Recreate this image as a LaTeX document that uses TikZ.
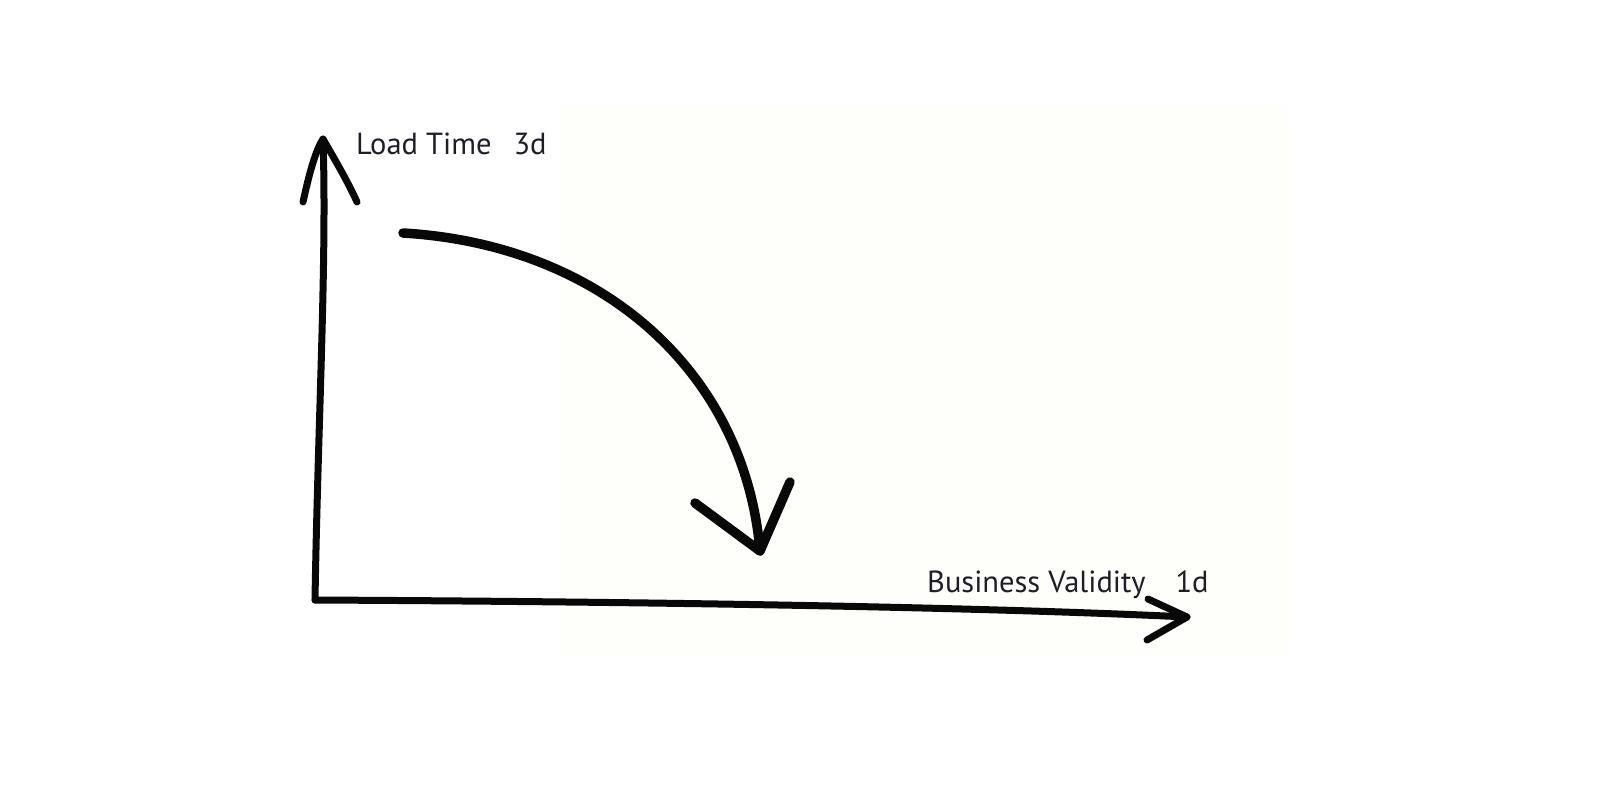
\documentclass[tikz,border=0pt]{standalone}
\usepackage{fontspec}
\setmainfont{PT Sans}
\definecolor{paper}{RGB}{254,254,250}
\definecolor{ink}{RGB}{8,8,8}
\definecolor{txt}{RGB}{30,30,40}
\begin{document}
\begin{tikzpicture}[x=1pt,y=-1pt,
  stroke/.style={draw=ink,line width=9.5pt,line cap=round,line join=round},
  axis/.style={draw=ink,line width=7pt,line cap=round,line join=round},
  lbl/.style={text=txt,font=\fontsize{30.5}{32}\selectfont,inner sep=0pt,anchor=base west}]
\useasboundingbox (0,0) rectangle (1600,800);
\fill[white] (0,0) rectangle (1600,800);
\fill[paper] (560,105) rectangle (1290,655);
% coordinates
\coordinate (O) at (315,600);
\coordinate (Ytip) at (323,139);
\coordinate (Xtip) at (1187,617);
\coordinate (Cs) at (403,233);
\coordinate (Ct) at (760,551);
% y axis
\draw[axis] (O) .. controls (318,420) and (327,260) .. (Ytip);
\draw[axis] (303,202) .. controls (310,170) and (316,150) .. (Ytip) .. controls (335,160) and (347,180) .. (357,202);
% x axis
\draw[axis] (O) .. controls (700,602) and (1000,608) .. (Xtip);
\draw[axis] (1148,599) -- (Xtip) -- (1147,640);
% curved arrow
\draw[stroke] (Cs) .. controls (605,245) and (745,375) .. (Ct);
\draw[stroke] (695,503) -- (Ct) -- (790,482);
% labels
\node[lbl] (ylab) at (356,154) {Load Time\hspace{22pt}3d};
\node[lbl] (xlab) at (927,592) {Business Validity\hspace{30pt}1d};
\end{tikzpicture}
\end{document}
